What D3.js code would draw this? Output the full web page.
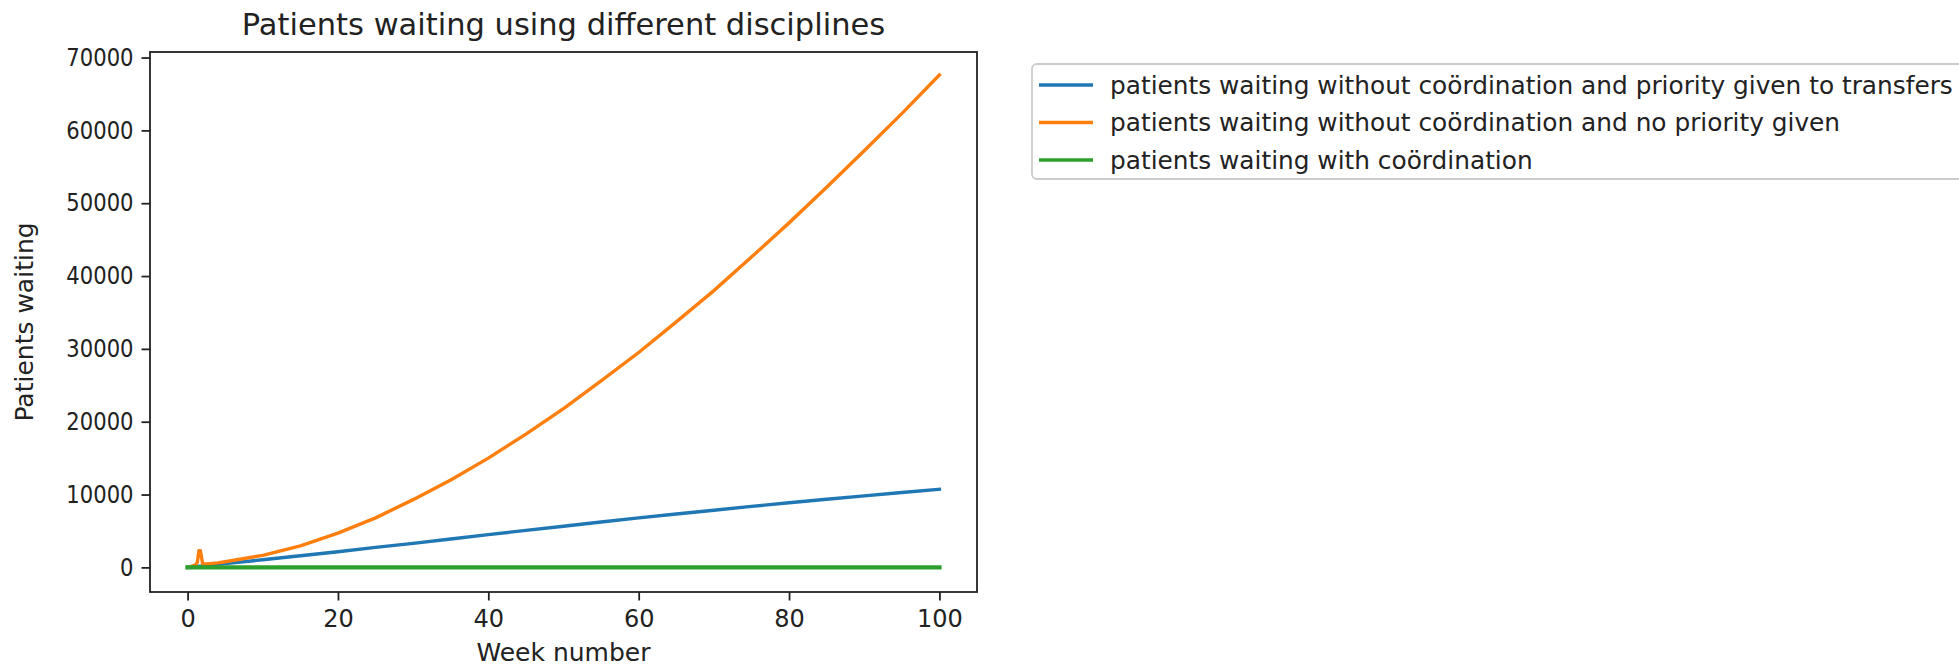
<!DOCTYPE html>
<html>
<head>
<meta charset="utf-8">
<script src="https://cdn.jsdelivr.net/npm/d3@7"></script>
<style>
  html, body { margin: 0; padding: 0; background: #fff; }
  svg { display: block; font-family: "DejaVu Sans", sans-serif; }
</style>
</head>
<body>
<svg id="chart" width="1959" height="667"></svg>
<script>
// Week numbers at which the simulation state was recorded
const weeks = [0, 0.5, 1, 1.3, 1.5, 1.7, 2, 2.5, 3, 4, 5, 10, 15, 20, 25, 30, 35, 40, 45, 50,
               55, 60, 65, 70, 75, 80, 85, 90, 95, 100];

// Patients waiting without coördination, priority given to transfers
const waitingPriority = [0, 50, 100, 140, 160, 180, 210, 260, 310, 420, 520, 1050, 1600, 2150, 2750,
                         3300, 3900, 4500, 5080, 5650, 6230, 6800, 7330, 7850, 8370, 8880, 9350,
                         9820, 10280, 10730];

// Patients waiting without coördination, no priority given
const waitingNoPriority = [0, 150, 300, 700, 2300, 2300, 500, 480, 520, 620, 780, 1650, 2950, 4700,
                           6800, 9300, 12000, 15000, 18300, 21800, 25600, 29500, 33700, 38000, 42600,
                           47300, 52200, 57200, 62300, 67600];

// Patients waiting with coördination
const waitingCoordinated = [0, 0, 0, 0, 0, 0, 0, 0, 0, 0, 0, 0, 0, 0, 0, 0, 0, 0, 0, 0,
                            0, 0, 0, 0, 0, 0, 0, 0, 0, 0];

const seriesNames = [
  "patients waiting without coördination and priority given to transfers",
  "patients waiting without coördination and no priority given",
  "patients waiting with coördination"
];
const seriesColors = ["#1f77b4", "#ff7f0e", "#2ca02c"];
const seriesValues = [waitingPriority, waitingNoPriority, waitingCoordinated];

const xTicks = [0, 20, 40, 60, 80, 100];
const yTicks = [0, 10000, 20000, 30000, 40000, 50000, 60000, 70000];

const titleText = "Patients waiting using different disciplines";
const xLabel = "Week number";
const yLabel = "Patients waiting";

// Plot area
const plot = { left: 150, right: 977, top: 52, bottom: 592 };

const svg = d3.select("#chart");

const x = d3.scaleLinear().domain([-5, 105]).range([plot.left, plot.right]);
const y = d3.scaleLinear().domain([-3380, 70760]).range([plot.bottom, plot.top]);

// x axis
const xAxis = svg.append("g")
  .attr("transform", `translate(0,${plot.bottom})`)
  .call(d3.axisBottom(x).tickValues(xTicks).tickSize(8.5).tickPadding(9).tickFormat(d3.format("d")));
xAxis.select(".domain").remove();
xAxis.selectAll(".tick line").attr("stroke", "#222").attr("stroke-width", 1.8);
xAxis.selectAll(".tick text").attr("fill", "#222").style("font-size", "24px")
  .style("font-family", "DejaVu Sans");

// y axis (labels slightly condensed horizontally)
const yAxis = svg.append("g")
  .attr("transform", `translate(${plot.left},0)`)
  .call(d3.axisLeft(y).tickValues(yTicks).tickSize(8.5).tickPadding(8).tickFormat(d3.format("d")));
yAxis.select(".domain").remove();
yAxis.selectAll(".tick line").attr("stroke", "#222").attr("stroke-width", 1.8);
yAxis.selectAll(".tick text")
  .attr("x", 0)
  .attr("transform", "translate(-16.5,0) scale(0.88,1)")
  .attr("fill", "#222").style("font-size", "24px")
  .style("font-family", "DejaVu Sans");

// series lines
const line = d3.line().x((d, i) => x(weeks[i])).y(d => y(d));
seriesValues.forEach((vals, k) => {
  svg.append("path")
    .datum(vals)
    .attr("d", line)
    .attr("fill", "none")
    .attr("stroke", seriesColors[k])
    .attr("stroke-width", k === 2 ? 4.4 : 3.4)
    .attr("stroke-linejoin", "round")
    .attr("stroke-linecap", "square");
});

// frame
svg.append("rect")
  .attr("x", plot.left).attr("y", plot.top)
  .attr("width", plot.right - plot.left).attr("height", plot.bottom - plot.top)
  .attr("fill", "none").attr("stroke", "#222").attr("stroke-width", 1.8);

// title
svg.append("text")
  .attr("x", (plot.left + plot.right) / 2).attr("y", 35)
  .attr("text-anchor", "middle")
  .attr("fill", "#222")
  .style("font-size", "30.5px")
  .text(titleText);

// axis labels
svg.append("text")
  .attr("x", x(50)).attr("y", 661)
  .attr("text-anchor", "middle")
  .attr("fill", "#222")
  .style("font-size", "25px")
  .text(xLabel);

svg.append("text")
  .attr("transform", `translate(33,${(plot.top + plot.bottom) / 2}) rotate(-90)`)
  .attr("text-anchor", "middle")
  .attr("fill", "#222")
  .style("font-size", "25px")
  .text(yLabel);

// legend
const legend = svg.append("g").attr("transform", "translate(1032,64)");
legend.append("rect")
  .attr("x", 0).attr("y", 0).attr("width", 940).attr("height", 115)
  .attr("rx", 5).attr("ry", 5)
  .attr("fill", "#fff").attr("stroke", "#ccc").attr("stroke-width", 1.8);
seriesNames.forEach((name, k) => {
  const cy = 21 + k * 37.5;
  legend.append("line")
    .attr("x1", 7).attr("x2", 61).attr("y1", cy).attr("y2", cy)
    .attr("stroke", seriesColors[k]).attr("stroke-width", 3.4);
  legend.append("text")
    .attr("x", 78).attr("y", cy).attr("dy", "0.35em")
    .attr("fill", "#222")
    .style("font-size", "24.8px")
    .text(name);
});
</script>
</body>
</html>
